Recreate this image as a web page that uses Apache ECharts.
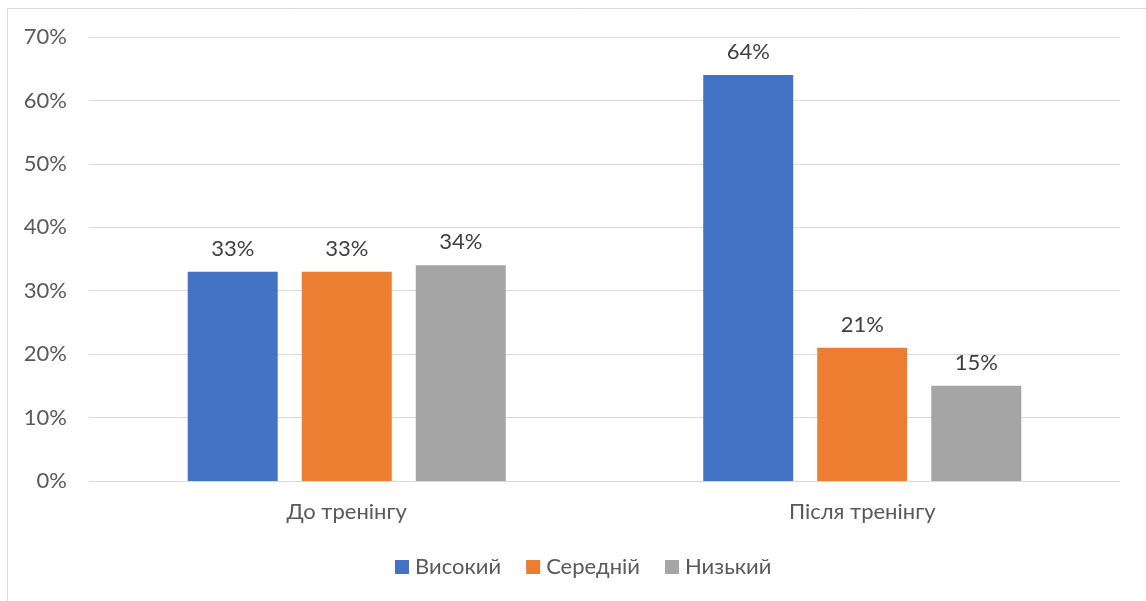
<!DOCTYPE html>
<html><head><meta charset="utf-8">
<script src="https://cdn.jsdelivr.net/npm/echarts@6/dist/echarts.min.js"></script>
<style>html,body{margin:0;padding:0;background:#fff}#c{width:1146px;height:601px}</style>
</head><body><div id="c"></div>
<script>
const categories = ['До тренінгу', 'Після тренінгу'];
const seriesNames = ['Високий', 'Середній', 'Низький'];
const high = [33, 64];
const mid = [33, 21];
const low = [34, 15];
const yTicks = [0, 10, 20, 30, 40, 50, 60, 70];

const colors = ['#4472C4', '#ED7D31', '#A5A5A5'];
const font = 'Lato, "Open Sans", sans-serif';
const chart = echarts.init(document.getElementById('c'));
const values = [high, mid, low];
chart.setOption({
  animation: false,
  graphic: [{type: 'rect', shape: {x: 7.5, y: 8.5, width: 1200, height: 700}, style: {fill: 'none', stroke: '#d9d9d9', lineWidth: 1}, z: -1}],
  grid: {left: 89, right: 26, top: 37, bottom: 120, containLabel: false},
  legend: {
    bottom: 18, left: 390, itemWidth: 14, itemHeight: 14, itemGap: 25,
    icon: 'rect',
    textStyle: {fontFamily: font, fontSize: 22, color: '#595959', padding: [0, 0, 0, 1]},
    data: seriesNames
  },
  xAxis: {
    type: 'category', data: categories,
    axisLine: {lineStyle: {color: '#d9d9d9', width: 1}},
    axisTick: {show: false},
    axisLabel: {fontFamily: font, fontSize: 22, color: '#595959', margin: 20}
  },
  yAxis: {
    type: 'value', min: yTicks[0], max: yTicks[yTicks.length - 1], interval: 10,
    axisLine: {show: false}, axisTick: {show: false},
    splitLine: {lineStyle: {color: '#d9d9d9', width: 1}},
    axisLabel: {fontFamily: font, fontSize: 22, color: '#595959', margin: 22, formatter: v => v + '%'}
  },
  series: seriesNames.map((n, i) => ({
    name: n, type: 'bar', data: values[i],
    barWidth: 90, barGap: '26.7%',
    itemStyle: {color: colors[i]},
    label: {show: true, position: 'top', distance: 12, formatter: p => p.value + '%',
      fontFamily: font, fontSize: 22, color: '#404040'}
  }))
});
</script></body></html>
